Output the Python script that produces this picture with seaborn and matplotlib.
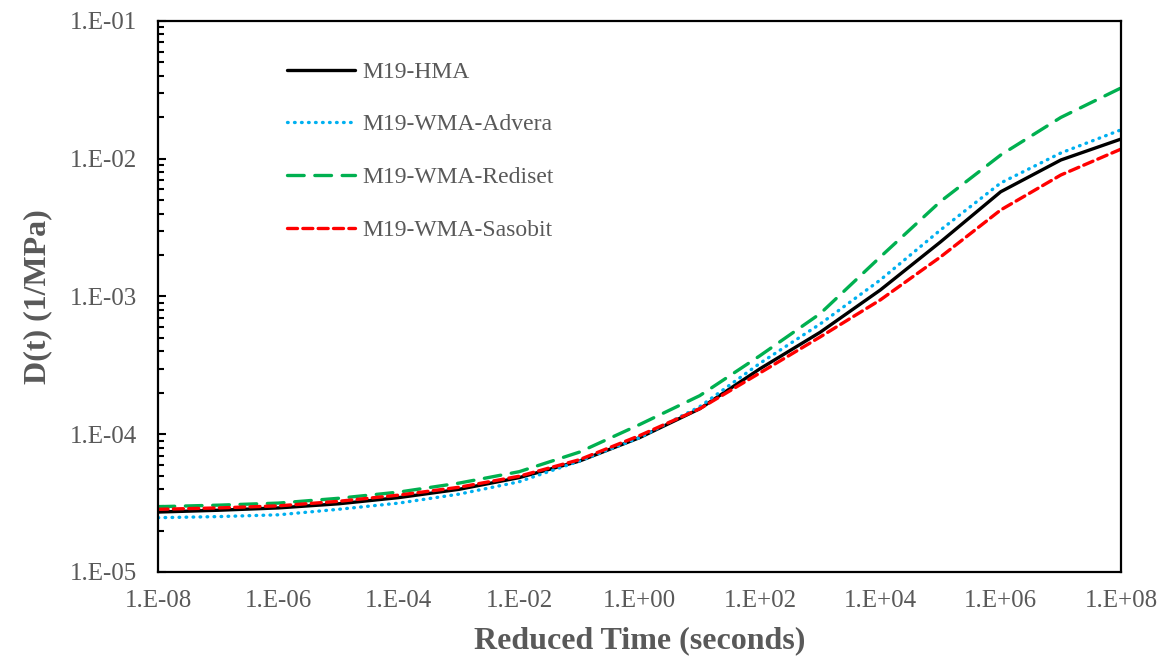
import numpy as np
import pandas as pd
import matplotlib
matplotlib.use("Agg")
import matplotlib.pyplot as plt
import seaborn as sns
from matplotlib.ticker import FuncFormatter, LogLocator, NullLocator

# log10 of reduced time (seconds)
log_time = [-8, -7, -6, -5, -4, -3, -2, -1, 0, 1, 2, 3, 4, 5, 6, 7, 8]

# log10 of D(t) (1/MPa)
hma = [-4.565, -4.552, -4.535, -4.505, -4.46, -4.40, -4.315, -4.195, -4.025,
       -3.815, -3.525, -3.26, -2.953, -2.604, -2.24, -2.009, -1.857]
advera = [-4.606, -4.598, -4.585, -4.545, -4.50, -4.435, -4.345, -4.195, -4.025,
          -3.80, -3.485, -3.20, -2.88, -2.517, -2.176, -1.958, -1.79]
rediset = [-4.526, -4.515, -4.50, -4.465, -4.42, -4.355, -4.272, -4.13, -3.93,
           -3.72, -3.43, -3.125, -2.713, -2.31, -1.973, -1.70, -1.486]
sasobit = [-4.545, -4.535, -4.52, -4.487, -4.442, -4.385, -4.305, -4.185, -4.01,
           -3.815, -3.555, -3.294, -3.025, -2.713, -2.372, -2.118, -1.93]

series_names = ["M19-HMA", "M19-WMA-Advera", "M19-WMA-Rediset", "M19-WMA-Sasobit"]
series_vals = [hma, advera, rediset, sasobit]

frames = []
for name, vals in zip(series_names, series_vals):
    frames.append(pd.DataFrame({
        "time": np.power(10.0, log_time),
        "D": np.power(10.0, vals),
        "Mix": name,
    }))
df = pd.concat(frames, ignore_index=True)

sns.set_style("white")
plt.rcParams["font.family"] = ["Liberation Serif", "DejaVu Serif"]

fig = plt.figure(figsize=(11.69, 6.64), dpi=100)
ax = fig.add_axes([0.1352, 0.1386, 0.959 - 0.1352, 0.9684 - 0.1386])

palette = {"M19-HMA": "#000000", "M19-WMA-Advera": "#00B0F0",
           "M19-WMA-Rediset": "#00B050", "M19-WMA-Sasobit": "#FF0000"}
dashes = {"M19-HMA": "", "M19-WMA-Advera": (0.2, 1.9),
          "M19-WMA-Rediset": (5, 3.2), "M19-WMA-Sasobit": (3, 1.6)}

sns.lineplot(data=df, x="time", y="D", hue="Mix", style="Mix",
             palette=palette, dashes=dashes, linewidth=2.4, ax=ax,
             legend=True)

for ln in ax.get_lines():
    ln.set_dash_capstyle("round")
    ln.set_solid_joinstyle("round")
    ln.set_dash_joinstyle("round")

ax.set_xscale("log")
ax.set_yscale("log")
ax.set_xlim(1e-8, 1e8)
ax.set_ylim(1e-5, 1e-1)

text_color = "#595959"

def fmt(v, pos):
    e = int(round(np.log10(v)))
    return "1.E%+03d" % e

ax.xaxis.set_major_locator(LogLocator(base=100.0, numticks=20))
ax.xaxis.set_minor_locator(NullLocator())
ax.xaxis.set_major_formatter(FuncFormatter(fmt))
ax.yaxis.set_major_locator(LogLocator(base=10.0, numticks=10))
ax.yaxis.set_minor_locator(LogLocator(base=10.0, subs=np.arange(2, 10), numticks=50))
ax.yaxis.set_major_formatter(FuncFormatter(fmt))

ax.tick_params(axis="x", which="both", bottom=True, length=0, labelsize=18,
               colors=text_color, pad=13)
ax.tick_params(axis="y", which="major", left=True, direction="in", length=6, width=1.5,
               color="black", labelsize=18, labelcolor=text_color, pad=15)
ax.tick_params(axis="y", which="minor", left=True, direction="in", length=4.5,
               width=1.5, color="black")

for sp in ax.spines.values():
    sp.set_visible(True)
    sp.set_color("black")
    sp.set_linewidth(1.6)

ax.set_xlabel("Reduced Time (seconds)", fontsize=23, fontweight="bold",
              color=text_color, labelpad=10)
ax.set_ylabel("D(t) (1/MPa)", fontsize=23, fontweight="bold",
              color=text_color, labelpad=13)

leg = ax.legend(loc="upper left", bbox_to_anchor=(0.1115, 0.9655), frameon=False,
                fontsize=17, handlelength=2.9, labelspacing=1.32, handletextpad=0.3,
                labelcolor=text_color)
for h in leg.get_lines():
    h.set_linewidth(2.4)
    h.set_dash_capstyle("round")

fig.savefig("out.png", dpi=100)
